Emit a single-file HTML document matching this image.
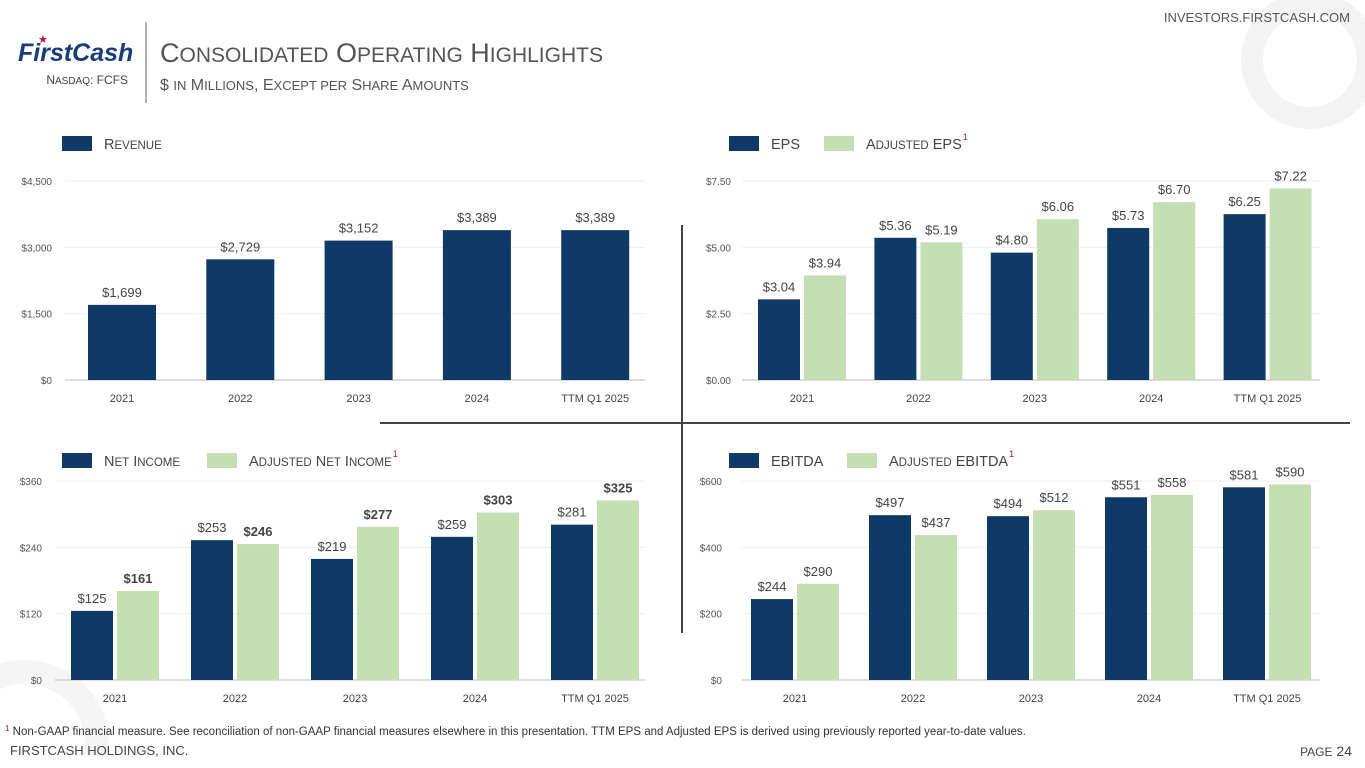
<!DOCTYPE html>
<html><head><meta charset="utf-8"><style>
html,body{margin:0;width:1365px;height:768px;overflow:hidden;background:#fff;font-family:"Liberation Sans",sans-serif}
svg{display:block;overflow:hidden}
</style></head><body>
<svg id="s" width="1365" height="768" viewBox="0 0 1365 768">
<circle cx="1310" cy="60" r="58" fill="none" stroke="#f3f3f3" stroke-width="22"/>
<path d="M96,756 A72,72 0 1 0 -46,756" fill="none" stroke="#f5f5f5" stroke-width="24"/>
<text x="1350" y="22" text-anchor="end" font-size="13" fill="#555">INVESTORS.FIRSTCASH.COM</text>
<text x="18" y="61" font-size="25" font-weight="bold" font-style="italic" fill="#1a3c7a">FirstCash</text>
<text x="38" y="43" font-size="11" fill="#c8102e">★</text>
<text x="128" y="84" text-anchor="end" font-size="12" fill="#444">N<tspan font-size="10">ASDAQ</tspan>: FCFS</text>
<line x1="146" y1="22" x2="146" y2="103" stroke="#666" stroke-width="1"/>
<text x="160" y="62" font-size="27" fill="#555">C<tspan font-size="21">ONSOLIDATED</tspan> O<tspan font-size="21">PERATING</tspan> H<tspan font-size="21">IGHLIGHTS</tspan></text>
<text x="160" y="90" font-size="16" fill="#555">$ <tspan font-size="13">IN</tspan> M<tspan font-size="13">ILLIONS</tspan>, E<tspan font-size="13">XCEPT PER</tspan> S<tspan font-size="13">HARE</tspan> A<tspan font-size="13">MOUNTS</tspan></text>
<line x1="380" y1="423" x2="1350" y2="423" stroke="#444" stroke-width="2"/>
<line x1="682" y1="225" x2="682" y2="633" stroke="#444" stroke-width="2"/>
<g id="charts"></g>
<text x="5" y="735" font-size="11.5" fill="#333"><tspan font-size="8" dy="-4" fill="#c8102e">1</tspan><tspan dy="4"> Non-GAAP financial measure. See reconciliation of non-GAAP financial measures elsewhere in this presentation. TTM EPS and Adjusted EPS is derived using previously reported year-to-date values.</tspan></text>
<text x="10" y="755" font-size="13" fill="#444">FIRSTCASH HOLDINGS, INC.</text>
<text x="1352" y="756" text-anchor="end" font-size="14" fill="#444"><tspan font-size="12">PAGE</tspan> 24</text>
</svg>
<script>
const categories=["2021","2022","2023","2024","TTM Q1 2025"];
const revenue=[1699,2729,3152,3389,3389];
const revenueTicks=[0,1500,3000,4500];
const eps=[3.04,5.36,4.80,5.73,6.25];
const adjEps=[3.94,5.19,6.06,6.70,7.22];
const epsTicks=[0,2.5,5,7.5];
const netIncome=[125,253,219,259,281];
const adjNetIncome=[161,246,277,303,325];
const niTicks=[0,120,240,360];
const ebitda=[244,497,494,551,581];
const adjEbitda=[290,437,512,558,590];
const ebitdaTicks=[0,200,400,600];
const NAVY="#0f3a68",GREEN="#c5dfb4";
const NS="http://www.w3.org/2000/svg";
const root=document.getElementById('charts');
function mk(tag,attrs,txt,parent){const e=document.createElementNS(NS,tag);for(const k in attrs)e.setAttribute(k,attrs[k]);if(txt!==undefined)e.textContent=txt;(parent||root).appendChild(e);return e;}
function smallCaps(t,label){
  label.split(' ').forEach((w,i)=>{
    mk('tspan',{'font-size':14.5},(i?' ':'')+w[0],t);
    if(w.length>1&&w!==w.toUpperCase())mk('tspan',{'font-size':11.5},w.slice(1).toUpperCase(),t);
    else if(w.length>1)mk('tspan',{'font-size':14.5},w.slice(1),t);
  });
}
function chart(o){
  const y=v=>o.base-(v-o.ticks[0])/(o.ticks[o.ticks.length-1]-o.ticks[0])*(o.base-o.top);
  o.ticks.forEach((t,i)=>{
    const ln=mk('line',{x1:o.x0,x2:o.x1,y1:y(t),y2:y(t),stroke:i==0?'#bbb':'#eee','stroke-width':1});
    
    
    const tl=mk('text',{x:o.lx,y:y(t)+4,'text-anchor':'end','font-size':10,fill:'#555'},o.fmtT(t));
    
    
  });
  categories.forEach((c,i)=>{
    const cx=o.c0+i*o.step;
    const cl=mk('text',{x:cx,y:o.base+22,'text-anchor':'middle','font-size':11,fill:'#444'},c);
    
    
    o.series.forEach((s,j)=>{
      const n=o.series.length;
      const bx=n==1?cx-o.bw/2:(j==0?cx-o.bw-2:cx+2);
      const v=s.data[i];
      const r=mk('rect',{x:bx,y:y(v),width:o.bw,height:o.base-y(v),fill:s.color});
      
      
      const t=mk('text',{x:bx+o.bw/2,y:y(v)-8,'text-anchor':'middle','font-size':13,fill:'#444','font-weight':s.bold?'bold':'normal'},s.fmt(v));
      
      
    });
  });
  o.legend.forEach(l=>{
    const r=mk('rect',{x:l.x,y:o.ly-8,width:30,height:15,fill:l.color});
    
    
    const t=mk('text',{x:l.x+42,y:o.ly+5,fill:'#444'});
    smallCaps(t,l.label);
    if(l.sup) mk('tspan',{'font-size':9,fill:'#c8102e',dx:1,dy:-9},'1',t);
    
    
  });
}
const m=v=>'$'+Math.round(v).toLocaleString('en-US');
const d=v=>'$'+v.toFixed(2);
chart({x0:65,x1:645,base:380,top:181,lx:52,ticks:revenueTicks,fmtT:m,c0:122,step:118.3,bw:68,ly:144,
  series:[{key:'revenue',data:revenue,color:NAVY,fmt:m}],
  legend:[{x:62,color:NAVY,label:'Revenue'}]});
chart({x0:742,x1:1320,base:380,top:181,lx:731,ticks:epsTicks,fmtT:d,c0:802,step:116.4,bw:42,ly:144,
  series:[{key:'eps',data:eps,color:NAVY,fmt:d},{key:'adjusted-eps',data:adjEps,color:GREEN,fmt:d}],
  legend:[{x:729,color:NAVY,label:'EPS'},{x:824,color:GREEN,label:'Adjusted EPS',sup:1}]});
chart({x0:55,x1:645,base:680,top:481,lx:42,ticks:niTicks,fmtT:m,c0:115,step:120,bw:42,ly:461,
  series:[{key:'net-income',data:netIncome,color:NAVY,fmt:m},{key:'adjusted-net-income',data:adjNetIncome,color:GREEN,fmt:m,bold:1}],
  legend:[{x:62,color:NAVY,label:'Net Income'},{x:207,color:GREEN,label:'Adjusted Net Income',sup:1}]});
chart({x0:742,x1:1320,base:680,top:481,lx:722,ticks:ebitdaTicks,fmtT:m,c0:795,step:118,bw:42,ly:461,
  series:[{key:'ebitda',data:ebitda,color:NAVY,fmt:m},{key:'adjusted-ebitda',data:adjEbitda,color:GREEN,fmt:m}],
  legend:[{x:729,color:NAVY,label:'EBITDA'},{x:847,color:GREEN,label:'Adjusted EBITDA',sup:1}]});
</script>
</body></html>
